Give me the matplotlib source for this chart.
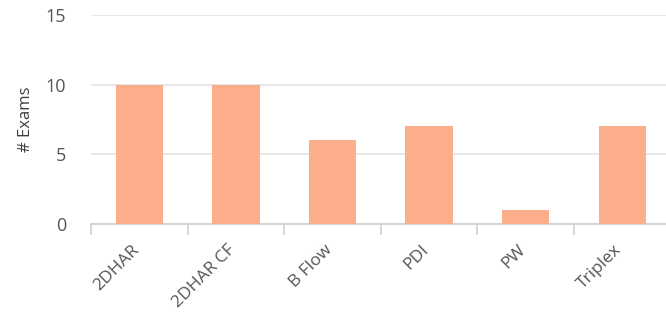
import matplotlib
matplotlib.use("Agg")
import matplotlib.pyplot as plt

categories = ["2DHAR", "2DHAR CF", "B Flow", "PDI", "PW", "Triplex"]
values = [10, 10, 6, 7, 1, 7]
yticks = [0, 5, 10, 15]

plt.rcParams['font.family'] = ['Open Sans', 'DejaVu Sans']

fig = plt.figure(figsize=(6.66, 3.15), dpi=100)
ax = fig.add_axes([91/666, 1-224/315, 575/666, (224-15)/315])

x = list(range(len(categories)))
ax.bar(x, values, width=0.49, color='#FBAD8C', zorder=3)
ax.set_xlim(-0.5, -0.5 + 575/96.6)
ax.set_ylim(0, 15)
ax.set_yticks(yticks)
ax.set_yticklabels([str(t) for t in yticks], fontsize=13, color='#555555')
ax.grid(axis='y', color='#e3e3e3', linewidth=1.2, zorder=0)
ax.tick_params(axis='y', length=0, pad=18)
for s in ['top', 'right', 'left']:
    ax.spines[s].set_visible(False)
ax.spines['bottom'].set_color('#cfcfcf')
ax.spines['bottom'].set_linewidth(1.2)

ax.set_xticks(x)
ax.set_xticklabels(categories, rotation=45, ha='right', va='baseline',
                   rotation_mode='anchor', fontsize=12.5, color='#555555')
ax.tick_params(axis='x', length=0, pad=19)
# category boundary ticks
ax.set_xticks([i - 0.5 for i in range(len(categories))], minor=True)
ax.tick_params(axis='x', which='minor', length=8, color='#cfcfcf', width=1.2)

ax.set_ylabel('# Exams', fontsize=12, color='#3a3f3c', labelpad=8)

fig.savefig('out.png', dpi=100)
